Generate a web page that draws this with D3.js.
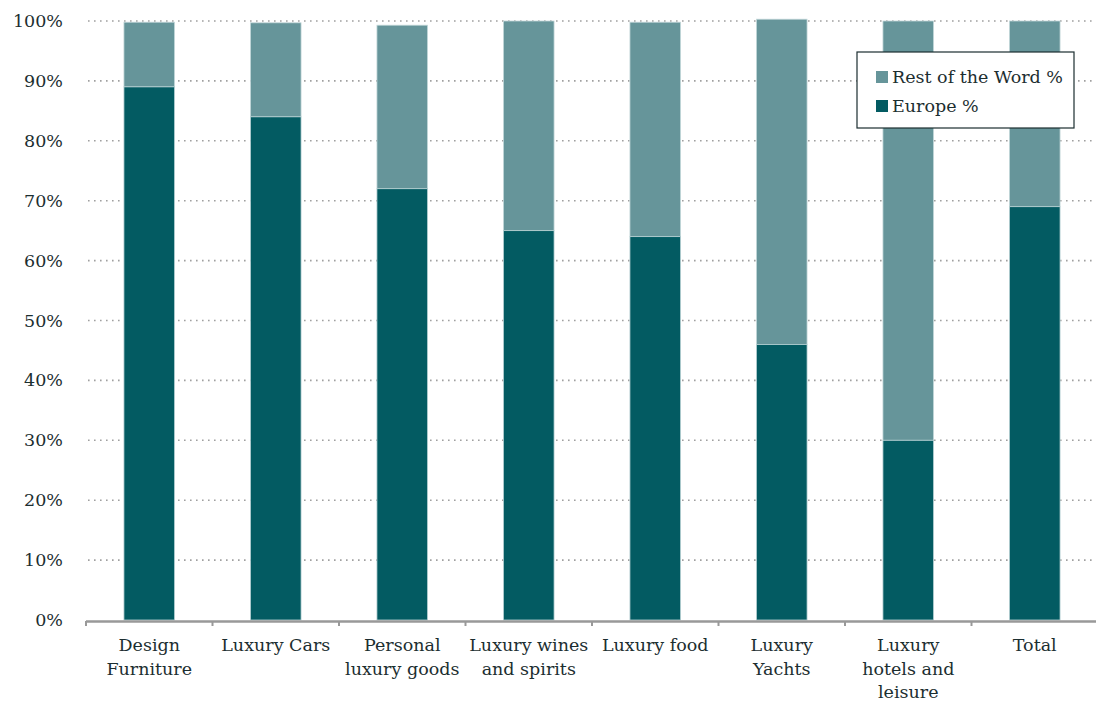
<!DOCTYPE html>
<html><head><meta charset="utf-8">
<script src="https://cdn.jsdelivr.net/npm/d3@7"></script>
<style>body{margin:0;background:#fff}svg{display:block}text{font-family:"DejaVu Serif","Liberation Serif",serif;fill:#1c2e30}</style>
</head><body><svg id="c" width="1096" height="702"></svg>
<script>
const categories = [["Design","Furniture"],["Luxury Cars"],["Personal","luxury goods"],["Luxury wines","and spirits"],["Luxury food"],["Luxury","Yachts"],["Luxury","hotels and","leisure"],["Total"]];
const europe = [89, 84, 72, 65, 64, 46, 30, 69];
const restOfWorld = [10.8, 15.7, 27.3, 35, 35.8, 54.3, 70, 31];
const yTicks = [0,10,20,30,40,50,60,70,80,90,100];
const seriesNames = ["Rest of the Word %","Europe %"];
const colors = {europe:"#035b62", rest:"#66959a"};

const svg = d3.select("#c");
const m = {l:86};
const W = 1096;
const x = d3.scaleBand().domain(d3.range(categories.length)).range([m.l, 1098]).paddingInner(0.6).paddingOuter(0.3);
const y = d3.scaleLinear().domain([0,100]).range([620, 21]);

// gridlines
svg.append("g").selectAll("line").data(yTicks.filter(t=>t>0)).join("line")
  .attr("x1", m.l+2).attr("x2", W).attr("y1", d=>y(d)).attr("y2", d=>y(d))
  .attr("stroke","#a0a0a0").attr("stroke-width",1.6).attr("stroke-dasharray","1.6,4.4");

// y labels
svg.append("g").selectAll("text").data(yTicks).join("text")
  .attr("x", 63).attr("y", d=>y(d)+6).attr("text-anchor","end")
  .style("font-size","17.5px").text(d=>d+"%");

// bars
const idx = d3.range(categories.length);
svg.append("g").selectAll("rect").data(idx).join("rect")
  .attr("x", i=>x(i)).attr("width", x.bandwidth())
  .attr("y", i=>y(europe[i]+restOfWorld[i])).attr("height", i=>y(europe[i])-y(europe[i]+restOfWorld[i]))
  .attr("fill", colors.rest).attr("stroke","#c4d8da").attr("stroke-width",0.8);
svg.append("g").selectAll("rect").data(idx).join("rect")
  .attr("x", i=>x(i)).attr("width", x.bandwidth())
  .attr("y", i=>y(europe[i])).attr("height", i=>y(0)-y(europe[i]))
  .attr("fill", colors.europe).attr("stroke","#b9d2d4").attr("stroke-width",0.8);

// x axis
const step = x.step();
const start = x(0) + x.bandwidth()/2 - step/2;
svg.append("line").attr("x1", m.l).attr("x2", W).attr("y1", 621.5).attr("y2", 621.5)
  .attr("stroke","#999").attr("stroke-width",2.5);
svg.append("g").selectAll("line").data(d3.range(categories.length+1)).join("line")
  .attr("x1", i=>start + step*i).attr("x2", i=>start + step*i)
  .attr("y1", 621).attr("y2", 626).attr("stroke","#999").attr("stroke-width",2);

// x labels
const xl = svg.append("g").selectAll("text").data(idx).join("text")
  .attr("text-anchor","middle").style("font-size","17.5px")
  .attr("transform", i=>`translate(${x(i)+x.bandwidth()/2},651)`);
xl.each(function(i){
  d3.select(this).selectAll("tspan").data(categories[i]).join("tspan")
    .attr("x",0).attr("dy",(d,j)=>j===0?0:23.5).text(d=>d);
});

// legend
const lg = svg.append("g").attr("transform","translate(857,52)");
lg.append("rect").attr("width",217).attr("height",76).attr("fill","#fff").attr("stroke","#1c2e30").attr("stroke-width",1.2);
[[seriesNames[0],colors.rest],[seriesNames[1],colors.europe]].forEach((d,k)=>{
  lg.append("rect").attr("x",19).attr("y",19+k*29).attr("width",12).attr("height",12).attr("fill",d[1]);
  lg.append("text").attr("x",35).attr("y",31+k*29).style("font-size","17.5px").text(d[0]);
});
</script></body></html>
